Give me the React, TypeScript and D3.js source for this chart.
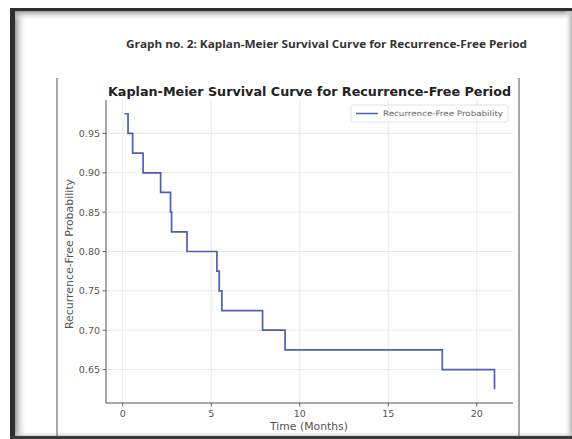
import { useEffect, useRef } from 'react';
import * as d3 from 'd3';

// Kaplan-Meier estimate, step after each event time
const eventTimes = [0.1, 0.3, 0.56, 1.15, 2.14, 2.7, 2.76, 3.63, 5.32, 5.45, 5.6, 7.9, 9.17, 18.05, 21.0];
const survivalProb = [0.975, 0.95, 0.925, 0.9, 0.875, 0.85, 0.825, 0.8, 0.775, 0.75, 0.725, 0.7, 0.675, 0.65, 0.625];

const xTicks = [0, 5, 10, 15, 20];
const yTicks = [0.65, 0.7, 0.75, 0.8, 0.85, 0.9, 0.95];

const pageTitle = 'Graph no. 2: Kaplan-Meier Survival Curve for Recurrence-Free Period';
const chartTitle = 'Kaplan-Meier Survival Curve for Recurrence-Free Period';
const seriesName = 'Recurrence-Free Probability';

const W = 572;
const H = 439;

export default function App() {
  const svgRef = useRef<SVGSVGElement>(null);

  useEffect(() => {
    document.body.style.margin = '0';
    document.body.style.overflow = 'hidden';
    if (!svgRef.current) return;
    const svg = d3.select(svgRef.current);
    svg.selectAll('*').remove();

    const font = 'DejaVu Sans, sans-serif';

    // page frame with soft inner shadow
    const defs = svg.append('defs');
    const gl = defs.append('linearGradient').attr('id', 'shadeL').attr('x1', 0).attr('x2', 1).attr('y1', 0).attr('y2', 0);
    gl.append('stop').attr('offset', 0).attr('stop-color', '#9a9a9a');
    gl.append('stop').attr('offset', 1).attr('stop-color', '#ffffff').attr('stop-opacity', 0);
    const gt = defs.append('linearGradient').attr('id', 'shadeT').attr('x1', 0).attr('x2', 0).attr('y1', 0).attr('y2', 1);
    gt.append('stop').attr('offset', 0).attr('stop-color', '#9a9a9a');
    gt.append('stop').attr('offset', 1).attr('stop-color', '#ffffff').attr('stop-opacity', 0);
    const gr = defs.append('linearGradient').attr('id', 'shadeR').attr('x1', 0).attr('x2', 1).attr('y1', 0).attr('y2', 0);
    gr.append('stop').attr('offset', 0).attr('stop-color', '#ffffff').attr('stop-opacity', 0);
    gr.append('stop').attr('offset', 1).attr('stop-color', '#b5b5b5');
    const gb = defs.append('linearGradient').attr('id', 'shadeB').attr('x1', 0).attr('x2', 0).attr('y1', 0).attr('y2', 1);
    gb.append('stop').attr('offset', 0).attr('stop-color', '#ffffff').attr('stop-opacity', 0);
    gb.append('stop').attr('offset', 1).attr('stop-color', '#8a8a8a');

    svg.append('rect').attr('width', W).attr('height', H).attr('fill', '#fff');
    svg.append('rect').attr('x', 15).attr('y', 11).attr('width', 12).attr('height', H - 11).attr('fill', 'url(#shadeL)');
    svg.append('rect').attr('x', 15).attr('y', 11).attr('width', W - 15).attr('height', 10).attr('fill', 'url(#shadeT)');
    svg.append('rect').attr('x', W - 8).attr('y', 11).attr('width', 8).attr('height', H - 11).attr('fill', 'url(#shadeR)');
    svg.append('rect').attr('x', 15).attr('y', H - 8).attr('width', W - 15).attr('height', 8).attr('fill', 'url(#shadeB)');
    svg.append('rect').attr('x', 10).attr('y', 8).attr('width', 5).attr('height', H - 8).attr('fill', '#2e2e2e');
    svg.append('rect').attr('x', 10).attr('y', 8).attr('width', W - 10).attr('height', 3).attr('fill', '#2e2e2e');
    svg.append('rect').attr('x', 10).attr('y', H - 3).attr('width', W - 10).attr('height', 3).attr('fill', '#3a3a3a');

    // page heading
    svg.append('text')
      .attr('x', 126).attr('y', 47.5)
      .attr('font-size', '10.5px').attr('font-family', 'Open Sans, sans-serif').attr('font-weight', 'bold')
      .attr('fill', '#333')
      .attr('textLength', 401).attr('lengthAdjust', 'spacingAndGlyphs')
      .text(pageTitle);

    // borders of the embedded chart image
    [57, 519].forEach(x => {
      svg.append('line').attr('x1', x).attr('x2', x).attr('y1', 78).attr('y2', H - 3)
        .attr('stroke', '#8a8a8a').attr('stroke-width', 1.5);
    });

    // scales with matplotlib-style 5% margins
    const [t0, t1] = d3.extent(eventTimes) as [number, number];
    const [s0, s1] = d3.extent(survivalProb) as [number, number];
    const padX = (t1 - t0) * 0.05;
    const padY = (s1 - s0) * 0.05;
    const left = 106, right = 513, top = 100, bottom = 403;
    const x = d3.scaleLinear().domain([t0 - padX, t1 + padX]).range([left, right]);
    const y = d3.scaleLinear().domain([s0 - padY, s1 + padY]).range([bottom, top]);

    // grid
    yTicks.forEach(v => {
      svg.append('line').attr('x1', left).attr('x2', right).attr('y1', y(v)).attr('y2', y(v))
        .attr('stroke', '#e6e6e6').attr('stroke-width', 0.9);
    });
    xTicks.forEach(v => {
      svg.append('line').attr('x1', x(v)).attr('x2', x(v)).attr('y1', top).attr('y2', bottom)
        .attr('stroke', '#e6e6e6').attr('stroke-width', 0.9);
    });

    // spines
    svg.append('line').attr('x1', left).attr('x2', left).attr('y1', top).attr('y2', bottom)
      .attr('stroke', '#555').attr('stroke-width', 1);
    svg.append('line').attr('x1', left).attr('x2', right).attr('y1', bottom).attr('y2', bottom)
      .attr('stroke', '#555').attr('stroke-width', 1);

    // ticks + labels
    yTicks.forEach(v => {
      svg.append('line').attr('x1', left - 3.5).attr('x2', left).attr('y1', y(v)).attr('y2', y(v))
        .attr('stroke', '#555').attr('stroke-width', 0.9);
      svg.append('text').attr('x', left - 6).attr('y', y(v) + 3.4)
        .attr('text-anchor', 'end').attr('font-size', '9.5px').attr('font-family', font)
        .attr('fill', '#555').text(v.toFixed(2));
    });
    xTicks.forEach(v => {
      svg.append('line').attr('x1', x(v)).attr('x2', x(v)).attr('y1', bottom).attr('y2', bottom + 3.5)
        .attr('stroke', '#555').attr('stroke-width', 0.9);
      svg.append('text').attr('x', x(v)).attr('y', bottom + 14)
        .attr('text-anchor', 'middle').attr('font-size', '9.5px').attr('font-family', font)
        .attr('fill', '#555').text(String(v));
    });

    // axis labels
    svg.append('text').attr('x', 309).attr('y', 429.5)
      .attr('text-anchor', 'middle').attr('font-size', '10px').attr('font-family', font)
      .attr('fill', '#555').attr('textLength', 78).attr('lengthAdjust', 'spacingAndGlyphs')
      .text('Time (Months)');
    svg.append('text')
      .attr('transform', `translate(72.5, 254) rotate(-90)`)
      .attr('text-anchor', 'middle').attr('font-size', '10px').attr('font-family', font)
      .attr('fill', '#555').attr('textLength', 150).attr('lengthAdjust', 'spacingAndGlyphs')
      .text(seriesName);

    // title
    svg.append('text')
      .attr('x', 108).attr('y', 96)
      .attr('font-size', '12.5px').attr('font-family', font).attr('font-weight', 'bold')
      .attr('fill', '#222')
      .attr('textLength', 403).attr('lengthAdjust', 'spacingAndGlyphs')
      .text(chartTitle);

    // survival curve
    const pts = eventTimes.map((t, i) => [t, survivalProb[i]] as [number, number]);
    const line = d3.line<[number, number]>()
      .x(d => x(d[0])).y(d => y(d[1]))
      .curve(d3.curveStepAfter);
    svg.append('path').attr('d', line(pts) ?? '')
      .attr('fill', 'none').attr('stroke', '#4e5fb4').attr('stroke-width', 1.7);

    // legend
    const lg = svg.append('g').attr('transform', 'translate(351, 105)');
    lg.append('rect').attr('width', 157).attr('height', 17).attr('rx', 2)
      .attr('fill', '#fff').attr('fill-opacity', 0.8).attr('stroke', '#dcdcdc').attr('stroke-width', 0.8);
    lg.append('line').attr('x1', 5).attr('x2', 27).attr('y1', 8.5).attr('y2', 8.5)
      .attr('stroke', '#4e5fb4').attr('stroke-width', 1.5);
    lg.append('text').attr('x', 32).attr('y', 11.3)
      .attr('font-size', '7.5px').attr('font-family', font).attr('fill', '#666')
      .attr('textLength', 120).attr('lengthAdjust', 'spacingAndGlyphs')
      .text(seriesName);
  }, []);

  return <svg ref={svgRef} width={W} height={H} style={{ display: 'block' }} />;
}
